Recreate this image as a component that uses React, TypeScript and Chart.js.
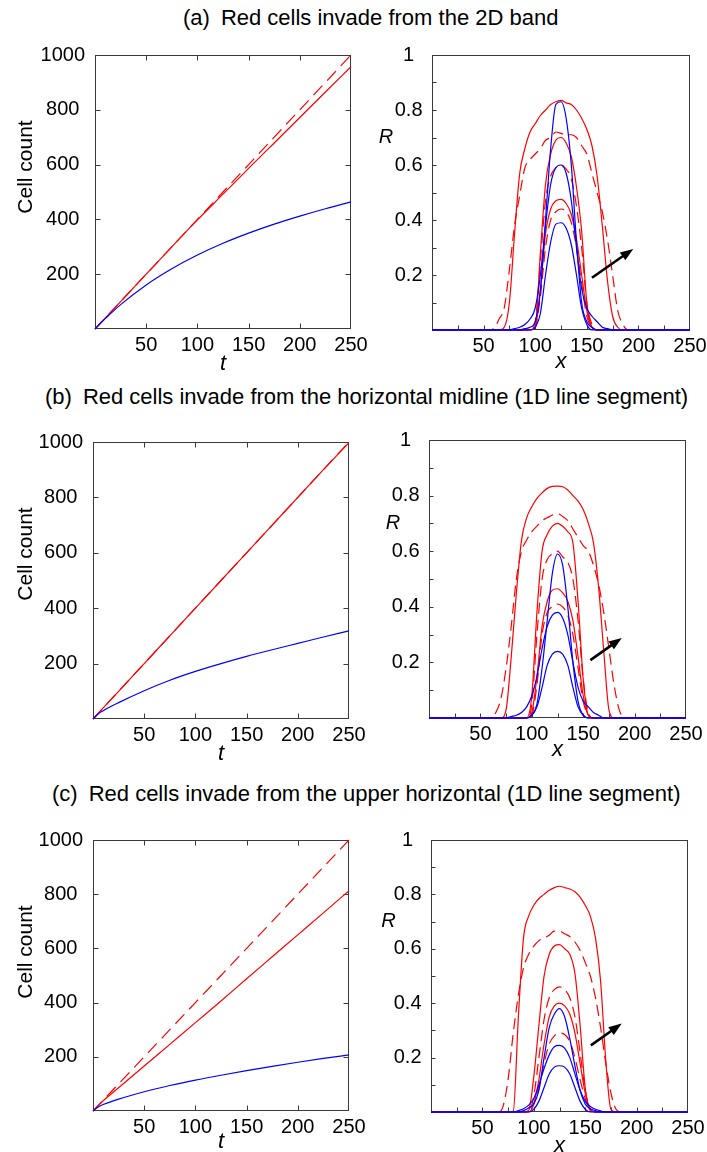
import React, { useEffect, useRef } from 'react';
import { Chart, registerables } from 'chart.js';

Chart.register(...registerables);

const FONT = "'Liberation Sans', Arial, Helvetica, sans-serif";
const RED = '#ff0000';
const BLUE = '#0000ff';
const INK = '#000000';
const FRAME = '#3a3a3a';

// ---------------- Cell count vs t (left column) ----------------
const tValues = [0, 5, 10, 25, 50, 75, 100, 125, 150, 175, 200, 225, 250];
const countRedSolidA = [0, 20, 40, 100, 200, 300, 398, 492, 586, 679, 772, 865, 957];
const countRedDashedA = [0, 20, 40, 100, 200, 300, 400, 500, 600, 700, 800, 900, 1000];
const countBlueA = [0, 20, 38, 89, 161, 220, 270, 313, 350, 383, 412, 439, 464];
const countRedSolidB = [0, 20, 40, 100, 200, 300, 400, 500, 600, 700, 800, 900, 998];
const countRedDashedB = [0, 20, 40, 100, 200, 300, 400, 500, 600, 700, 800, 900, 1000];
const countBlueB = [0, 18, 30, 59, 102, 140, 172, 200, 226, 250, 273, 296, 318];
const countRedSolidC = [0, 20, 38, 86, 166, 246, 326, 406, 488, 569, 650, 731, 813];
const countRedDashedC = [0, 20, 40, 100, 200, 300, 400, 500, 600, 700, 800, 900, 1000];
const countBlueC = [0, 15, 24, 44, 71, 94, 114, 132, 149, 165, 180, 194, 207];

const countXTickLabels = [50, 100, 150, 200, 250];
const countYTickLabels = [200, 400, 600, 800, 1000];

// ---------------- R profiles vs x (right column) ----------------
const xPositions = [0, 50, 55, 60, 65, 70, 75, 80, 85, 90, 95, 100, 105, 110, 115, 120, 125, 130, 135, 140, 145, 150, 155, 160, 165, 170, 175, 180, 185, 190, 195, 200, 250];

// panel (a)
const aRedSolid3 = [0, 0, 0, 0, 0, 0.01, 0.10, 0.35, 0.57, 0.66, 0.72, 0.75, 0.78, 0.80, 0.82, 0.83, 0.835, 0.826, 0.82, 0.80, 0.77, 0.73, 0.67, 0.56, 0.38, 0.18, 0.05, 0.01, 0, 0, 0, 0, 0];
const aRedDashed3 = [0, 0, 0, 0.005, 0.04, 0.08, 0.22, 0.38, 0.49, 0.59, 0.62, 0.64, 0.66, 0.69, 0.70, 0.72, 0.715, 0.71, 0.71, 0.70, 0.67, 0.64, 0.57, 0.50, 0.43, 0.33, 0.20, 0.07, 0.02, 0, 0, 0, 0];
const aRedSolid2 = [0, 0, 0, 0, 0, 0, 0, 0, 0, 0, 0, 0.01, 0.28, 0.53, 0.64, 0.69, 0.70, 0.68, 0.63, 0.52, 0.36, 0.10, 0.01, 0, 0, 0, 0, 0, 0, 0, 0, 0, 0];
const aRedDashed2 = [0, 0, 0, 0, 0, 0, 0, 0, 0, 0, 0, 0.03, 0.25, 0.47, 0.56, 0.59, 0.60, 0.585, 0.55, 0.45, 0.30, 0.10, 0.02, 0, 0, 0, 0, 0, 0, 0, 0, 0, 0];
const aRedSolid1 = [0, 0, 0, 0, 0, 0, 0, 0, 0, 0, 0, 0.01, 0.15, 0.35, 0.44, 0.47, 0.475, 0.46, 0.42, 0.33, 0.20, 0.07, 0.01, 0, 0, 0, 0, 0, 0, 0, 0, 0, 0];
const aRedDashed1 = [0, 0, 0, 0, 0, 0, 0, 0, 0, 0, 0, 0.01, 0.12, 0.30, 0.40, 0.43, 0.44, 0.43, 0.39, 0.30, 0.17, 0.05, 0.01, 0, 0, 0, 0, 0, 0, 0, 0, 0, 0];
const aBlue3 = [0, 0, 0, 0, 0, 0, 0, 0, 0, 0.005, 0.01, 0.03, 0.14, 0.40, 0.66, 0.82, 0.83, 0.77, 0.60, 0.32, 0.10, 0.03, 0.01, 0, 0, 0, 0, 0, 0, 0, 0, 0, 0];
const aBlue2 = [0, 0, 0, 0, 0, 0, 0, 0.005, 0.01, 0.02, 0.04, 0.08, 0.20, 0.38, 0.53, 0.59, 0.60, 0.57, 0.47, 0.30, 0.15, 0.08, 0.05, 0.03, 0.01, 0.005, 0, 0, 0, 0, 0, 0, 0];
const aBlue1 = [0, 0, 0, 0, 0, 0, 0, 0, 0, 0, 0, 0.01, 0.06, 0.20, 0.32, 0.385, 0.39, 0.37, 0.31, 0.20, 0.08, 0.02, 0, 0, 0, 0, 0, 0, 0, 0, 0, 0, 0];

// panel (b)
const bRedSolid3 = [0, 0, 0, 0, 0, 0, 0.03, 0.22, 0.45, 0.64, 0.72, 0.76, 0.79, 0.81, 0.826, 0.833, 0.834, 0.832, 0.82, 0.80, 0.78, 0.75, 0.70, 0.63, 0.47, 0.24, 0.03, 0, 0, 0, 0, 0, 0];
const bRedDashed3 = [0, 0, 0, 0, 0.02, 0.07, 0.18, 0.33, 0.50, 0.60, 0.64, 0.67, 0.69, 0.71, 0.72, 0.73, 0.735, 0.725, 0.71, 0.68, 0.65, 0.62, 0.60, 0.55, 0.48, 0.38, 0.25, 0.12, 0.03, 0, 0, 0, 0];
const bRedSolid2 = [0, 0, 0, 0, 0, 0, 0, 0, 0, 0, 0, 0.08, 0.38, 0.60, 0.66, 0.69, 0.70, 0.69, 0.67, 0.63, 0.42, 0.14, 0.01, 0, 0, 0, 0, 0, 0, 0, 0, 0, 0];
const bRedDashed2 = [0, 0, 0, 0, 0, 0, 0, 0, 0, 0, 0, 0.05, 0.30, 0.50, 0.57, 0.59, 0.60, 0.58, 0.56, 0.50, 0.35, 0.14, 0.02, 0, 0, 0, 0, 0, 0, 0, 0, 0, 0];
const bRedSolid1 = [0, 0, 0, 0, 0, 0, 0, 0, 0, 0, 0, 0.02, 0.15, 0.33, 0.42, 0.46, 0.465, 0.45, 0.42, 0.35, 0.22, 0.08, 0.01, 0, 0, 0, 0, 0, 0, 0, 0, 0, 0];
const bRedDashed1 = [0, 0, 0, 0, 0, 0, 0, 0, 0, 0, 0, 0.01, 0.12, 0.30, 0.38, 0.40, 0.41, 0.40, 0.37, 0.30, 0.18, 0.06, 0.01, 0, 0, 0, 0, 0, 0, 0, 0, 0, 0];
const bBlue3 = [0, 0, 0, 0, 0, 0, 0, 0, 0, 0, 0, 0.01, 0.05, 0.18, 0.35, 0.52, 0.59, 0.55, 0.40, 0.20, 0.06, 0.01, 0, 0, 0, 0, 0, 0, 0, 0, 0, 0, 0];
const bBlue2 = [0, 0, 0, 0, 0, 0, 0, 0.005, 0.01, 0.02, 0.04, 0.08, 0.15, 0.25, 0.33, 0.37, 0.38, 0.36, 0.30, 0.20, 0.11, 0.06, 0.04, 0.02, 0.01, 0, 0, 0, 0, 0, 0, 0, 0];
const bBlue1 = [0, 0, 0, 0, 0, 0, 0, 0, 0, 0, 0, 0.01, 0.04, 0.11, 0.19, 0.23, 0.24, 0.23, 0.19, 0.11, 0.04, 0.01, 0, 0, 0, 0, 0, 0, 0, 0, 0, 0, 0];

// panel (c)
const cRedSolid3 = [0, 0, 0, 0, 0, 0, 0, 0.003, 0.35, 0.64, 0.72, 0.76, 0.785, 0.80, 0.815, 0.825, 0.83, 0.825, 0.82, 0.81, 0.79, 0.76, 0.72, 0.64, 0.48, 0.19, 0.01, 0, 0, 0, 0, 0, 0];
const cRedDashed3 = [0, 0, 0, 0, 0, 0.02, 0.12, 0.29, 0.43, 0.53, 0.58, 0.61, 0.63, 0.64, 0.65, 0.665, 0.665, 0.655, 0.645, 0.625, 0.595, 0.55, 0.50, 0.42, 0.31, 0.18, 0.07, 0.01, 0, 0, 0, 0, 0];
const cRedSolid2 = [0, 0, 0, 0, 0, 0, 0, 0, 0, 0, 0.006, 0.13, 0.32, 0.50, 0.58, 0.61, 0.615, 0.60, 0.58, 0.51, 0.32, 0.09, 0.005, 0, 0, 0, 0, 0, 0, 0, 0, 0, 0];
const cRedDashed2 = [0, 0, 0, 0, 0, 0, 0, 0, 0, 0, 0, 0.06, 0.20, 0.34, 0.42, 0.45, 0.46, 0.45, 0.42, 0.35, 0.22, 0.08, 0.01, 0, 0, 0, 0, 0, 0, 0, 0, 0, 0];
const cRedSolid1 = [0, 0, 0, 0, 0, 0, 0, 0, 0, 0, 0, 0.03, 0.12, 0.25, 0.35, 0.39, 0.40, 0.39, 0.36, 0.29, 0.18, 0.07, 0.01, 0, 0, 0, 0, 0, 0, 0, 0, 0, 0];
const cRedDashed1 = [0, 0, 0, 0, 0, 0, 0, 0, 0, 0, 0, 0.03, 0.09, 0.18, 0.25, 0.28, 0.29, 0.285, 0.26, 0.20, 0.12, 0.05, 0.01, 0, 0, 0, 0, 0, 0, 0, 0, 0, 0];
const cBlue3 = [0, 0, 0, 0, 0, 0, 0, 0, 0, 0.005, 0.015, 0.03, 0.08, 0.20, 0.31, 0.36, 0.38, 0.35, 0.27, 0.17, 0.08, 0.03, 0.012, 0.005, 0, 0, 0, 0, 0, 0, 0, 0, 0];
const cBlue2 = [0, 0, 0, 0, 0, 0, 0, 0, 0.005, 0.012, 0.025, 0.05, 0.10, 0.16, 0.21, 0.24, 0.245, 0.235, 0.20, 0.14, 0.08, 0.04, 0.02, 0.01, 0.004, 0, 0, 0, 0, 0, 0, 0, 0];
const cBlue1 = [0, 0, 0, 0, 0, 0, 0, 0, 0, 0, 0, 0.01, 0.04, 0.09, 0.14, 0.165, 0.17, 0.165, 0.14, 0.09, 0.04, 0.01, 0, 0, 0, 0, 0, 0, 0, 0, 0, 0, 0];

const profileXTickLabels = [50, 100, 150, 200, 250];
const profileYTickLabels = [0.2, 0.4, 0.6, 0.8, 1];

// time-direction arrows [x0, R0, x1, R1]
const arrowA = [155, 0.19, 195, 0.295];
const arrowB = [157, 0.208, 187.5, 0.288];
const arrowC = [155.5, 0.245, 185.5, 0.325];

const panelTitles = [
  { tag: '(a)', text: 'Red cells invade from the 2D band', left: 183, top: 7.4 },
  { tag: '(b)', text: 'Red cells invade from the horizontal midline (1D line segment)', left: 45, top: 386.4 },
  { tag: '(c)', text: 'Red cells invade from the upper horizontal (1D line segment)', left: 52, top: 783 },
];

// ---------------- helpers ----------------
function lineDs(xs: number[], ys: number[], color: string, dash: number[]) {
  return {
    data: xs.map((x, i) => ({ x, y: ys[i] })),
    borderColor: color,
    borderWidth: 1.2,
    borderDash: dash,
    pointRadius: 0,
    fill: false,
    cubicInterpolationMode: 'monotone',
    clip: false,
  };
}

// Chart.js paints dataset 0 last (on top), so blue goes first.
function countDatasets(solid: number[], dashed: number[], blue: number[]) {
  return [
    lineDs(tValues, blue, BLUE, []),
    lineDs(tValues, solid, RED, []),
    lineDs(tValues, dashed, RED, [13, 7]),
  ];
}

function profileDatasets(reds: number[][], dashes: number[][], blues: number[][]) {
  return [
    ...blues.map((r) => lineDs(xPositions, r, BLUE, [])),
    ...reds.map((r) => lineDs(xPositions, r, RED, [])),
    ...dashes.map((r) => lineDs(xPositions, r, RED, [11, 6])),
  ];
}

const decorPlugin = {
  id: 'decor',
  beforeDatasetsDraw(chart: any, _a: any, o: any) {
    const { ctx, chartArea: a } = chart;
    const xs = chart.scales.x;
    const ys = chart.scales.y;
    const L = Math.round(a.left) + 0.5;
    const R = Math.round(a.right) - 0.5;
    const T = Math.round(a.top) + 0.5;
    const B = Math.round(a.bottom) - 0.5;
    ctx.save();
    ctx.strokeStyle = FRAME;
    ctx.lineWidth = 1;
    ctx.strokeRect(L, T, R - L, B - T);
    ctx.beginPath();
    for (const tk of xs.ticks) {
      if (tk.value <= xs.min + 1e-9 || tk.value >= xs.max - 1e-9) continue;
      const p = Math.round(xs.getPixelForValue(tk.value)) + 0.5;
      ctx.moveTo(p, B);
      ctx.lineTo(p, B - o.tickLen);
      if (o.mirror) {
        ctx.moveTo(p, T);
        ctx.lineTo(p, T + o.tickLen);
      }
    }
    for (const tk of ys.ticks) {
      if (tk.value <= ys.min + 1e-9 || tk.value >= ys.max - 1e-9) continue;
      const p = Math.round(ys.getPixelForValue(tk.value)) + 0.5;
      ctx.moveTo(L, p);
      ctx.lineTo(L + o.tickLen, p);
      if (o.mirror) {
        ctx.moveTo(R, p);
        ctx.lineTo(R - o.tickLen, p);
      }
    }
    ctx.stroke();
    ctx.restore();
  },
  afterDatasetsDraw(chart: any, _a: any, o: any) {
    const { ctx, chartArea: a } = chart;
    const xs = chart.scales.x;
    const ys = chart.scales.y;
    ctx.save();
    ctx.fillStyle = INK;
    ctx.strokeStyle = INK;
    ctx.font = o.xTitleFont;
    ctx.textAlign = 'center';
    ctx.textBaseline = 'alphabetic';
    ctx.fillText(o.xTitle, (a.left + a.right) / 2, a.bottom + o.xTitleDy);
    ctx.font = o.yTitleFont;
    if (o.yRotate) {
      ctx.save();
      ctx.translate(o.yTitleX, a.top + o.yTitleDy);
      ctx.rotate(-Math.PI / 2);
      ctx.textAlign = 'center';
      ctx.textBaseline = 'alphabetic';
      ctx.fillText(o.yTitle, 0, 0);
      ctx.restore();
    } else {
      ctx.textAlign = 'center';
      ctx.textBaseline = 'middle';
      ctx.fillText(o.yTitle, o.yTitleX, ys.getPixelForValue(o.yTitleValue));
    }
    if (o.arrow) {
      const [x0, y0, x1, y1] = o.arrow;
      const px0 = xs.getPixelForValue(x0);
      const py0 = ys.getPixelForValue(y0);
      const px1 = xs.getPixelForValue(x1);
      const py1 = ys.getPixelForValue(y1);
      const ang = Math.atan2(py1 - py0, px1 - px0);
      const head = 13;
      const hw = 4.8;
      const bx = px1 - head * Math.cos(ang);
      const by = py1 - head * Math.sin(ang);
      ctx.lineWidth = 2.6;
      ctx.lineCap = 'butt';
      ctx.beginPath();
      ctx.moveTo(px0, py0);
      ctx.lineTo(bx + Math.cos(ang), by + Math.sin(ang));
      ctx.stroke();
      ctx.beginPath();
      ctx.moveTo(px1, py1);
      ctx.lineTo(bx + hw * Math.sin(ang), by - hw * Math.cos(ang));
      ctx.lineTo(bx - hw * Math.sin(ang), by + hw * Math.cos(ang));
      ctx.closePath();
      ctx.fill();
    }
    ctx.restore();
  },
};

type Rect = { l: number; t: number; r: number; b: number };
type PanelSpec = {
  kind: 'count' | 'profile';
  plot: Rect;
  datasets: any[];
  xTitleDy: number;
  rX?: number;
  arrow?: number[];
};

const panels: PanelSpec[] = [
  { kind: 'count', plot: { l: 95, t: 55, r: 351, b: 329 }, datasets: countDatasets(countRedSolidA, countRedDashedA, countBlueA), xTitleDy: 41 },
  {
    kind: 'profile', plot: { l: 432, t: 55, r: 690, b: 330 },
    datasets: profileDatasets([aRedSolid3, aRedSolid2, aRedSolid1], [aRedDashed3, aRedDashed2, aRedDashed1], [aBlue3, aBlue2, aBlue1]),
    xTitleDy: 38, rX: 386, arrow: arrowA,
  },
  { kind: 'count', plot: { l: 93, t: 442, r: 349, b: 719 }, datasets: countDatasets(countRedSolidB, countRedDashedB, countBlueB), xTitleDy: 41 },
  {
    kind: 'profile', plot: { l: 429, t: 440, r: 686, b: 718 },
    datasets: profileDatasets([bRedSolid3, bRedSolid2, bRedSolid1], [bRedDashed3, bRedDashed2, bRedDashed1], [bBlue3, bBlue2, bBlue1]),
    xTitleDy: 38, rX: 393, arrow: arrowB,
  },
  { kind: 'count', plot: { l: 93, t: 840, r: 349, b: 1111 }, datasets: countDatasets(countRedSolidC, countRedDashedC, countBlueC), xTitleDy: 37 },
  {
    kind: 'profile', plot: { l: 431, t: 840, r: 688, b: 1112 },
    datasets: profileDatasets([cRedSolid3, cRedSolid2, cRedSolid1], [cRedDashed3, cRedDashed2, cRedDashed1], [cBlue3, cBlue2, cBlue1]),
    xTitleDy: 40, rX: 388.5, arrow: arrowC,
  },
];

function PanelCanvas({ spec }: { spec: PanelSpec }) {
  const ref = useRef<HTMLCanvasElement | null>(null);
  const isCount = spec.kind === 'count';
  const cLeft = isCount ? 0 : 360;
  const cWidth = 380;
  const cTop = spec.plot.t - 30;
  const cHeight = spec.plot.b + 50 - cTop;

  useEffect(() => {
    const yW = spec.plot.l - cLeft;
    const xH = cTop + cHeight - spec.plot.b;
    const padTop = spec.plot.t - cTop;
    const padRight = cLeft + cWidth - spec.plot.r;
    const tickFont = { family: FONT, size: 20 };
    const xLabels = isCount ? countXTickLabels : profileXTickLabels;
    const yLabels = isCount ? countYTickLabels : profileYTickLabels;
    const chart = new Chart(ref.current as HTMLCanvasElement, {
      type: 'line',
      data: { datasets: spec.datasets as any },
      options: {
        responsive: false,
        animation: false,
        devicePixelRatio: 1,
        layout: { padding: { top: padTop, right: padRight, left: 0, bottom: 0 } },
        plugins: {
          legend: { display: false },
          tooltip: { enabled: false },
          decor: {
            mirror: isCount,
            tickLen: isCount ? 5 : 4,
            xTitle: isCount ? 't' : 'x',
            xTitleFont: `italic 22px ${FONT}`,
            xTitleDy: spec.xTitleDy,
            yTitle: isCount ? 'Cell count' : 'R',
            yTitleFont: isCount ? `21px ${FONT}` : `italic 20px ${FONT}`,
            yRotate: isCount,
            yTitleX: isCount ? 32 : (spec.rX as number) - cLeft,
            yTitleDy: 112,
            yTitleValue: 0.7,
            arrow: spec.arrow,
          },
        } as any,
        scales: {
          x: {
            type: 'linear',
            min: 0,
            max: 250,
            afterFit: (s: any) => { s.height = xH; },
            grid: { display: false, drawTicks: false },
            border: { display: false },
            ticks: {
              stepSize: isCount ? 50 : 25,
              autoSkip: false,
              maxRotation: 0,
              minRotation: 0,
              padding: 4,
              color: INK,
              font: tickFont,
              callback: (v: any) => {
                const n = Math.round(Number(v));
                return xLabels.includes(n) ? String(n) : '';
              },
            },
          },
          y: {
            type: 'linear',
            min: 0,
            max: isCount ? 1000 : 1,
            afterFit: (s: any) => { s.width = yW; },
            grid: { display: false, drawTicks: false },
            border: { display: false },
            ticks: {
              stepSize: isCount ? 200 : 0.1,
              autoSkip: false,
              crossAlign: 'center',
              padding: isCount ? 10 : 9.5,
              color: INK,
              font: tickFont,
              callback: (v: any) => {
                const n = isCount ? Math.round(Number(v)) : Math.round(Number(v) * 10) / 10;
                return yLabels.includes(n) ? String(n) : '';
              },
            },
          },
        } as any,
      },
      plugins: [decorPlugin as any],
    });
    return () => chart.destroy();
  }, []);

  return (
    <canvas
      ref={ref}
      width={cWidth}
      height={cHeight}
      style={{ position: 'absolute', left: cLeft, top: cTop, width: cWidth, height: cHeight, display: 'block' }}
    />
  );
}

export default function App() {
  return (
    <div
      style={{
        position: 'absolute', left: 0, top: 0, width: 707, height: 1152,
        overflow: 'hidden', background: '#ffffff', fontFamily: FONT, color: INK,
      }}
    >
      {panelTitles.map((t, i) => (
        <div
          key={i}
          style={{
            position: 'absolute', left: t.left, top: t.top, fontSize: 22, lineHeight: '22px',
            whiteSpace: 'nowrap', fontFamily: FONT, color: INK,
          }}
        >
          <span style={{ marginRight: 11 }}>{t.tag}</span>
          {t.text}
        </div>
      ))}
      {panels.map((p, i) => (
        <PanelCanvas key={i} spec={p} />
      ))}
    </div>
  );
}
